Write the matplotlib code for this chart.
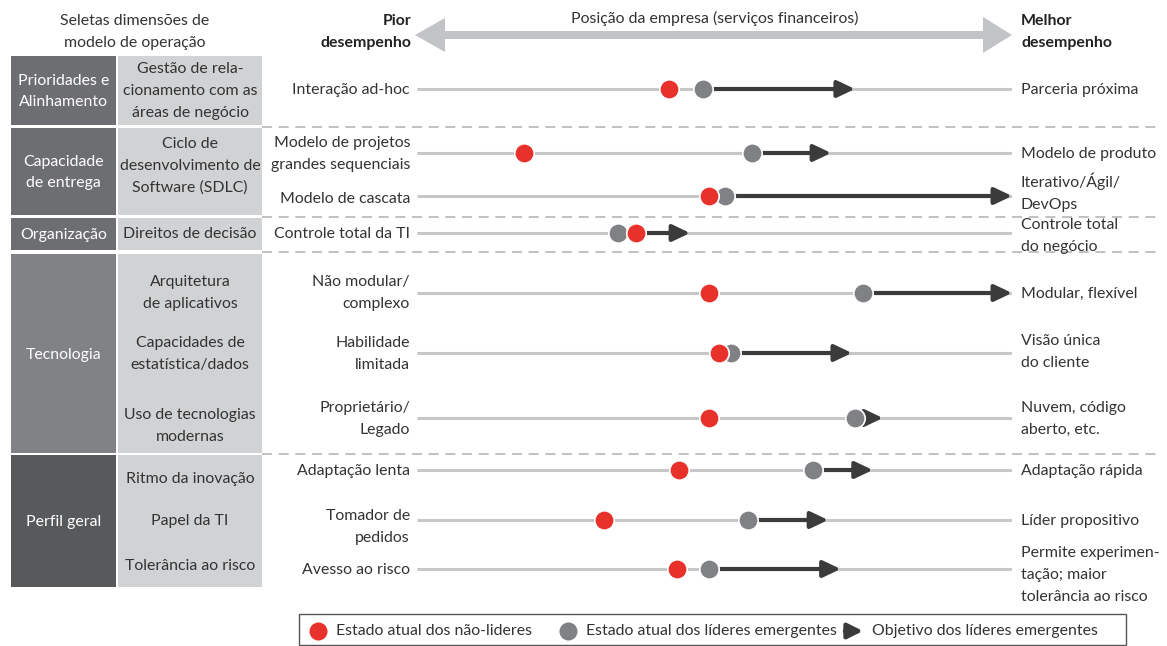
import matplotlib
matplotlib.use("Agg")
import matplotlib.pyplot as plt
from matplotlib.patches import Rectangle, Polygon

plt.rcParams['font.family'] = ['Lato', 'DejaVu Sans']

# ---------------- data ----------------
left_labels = ["Interação ad-hoc", "Modelo de projetos\ngrandes sequenciais", "Modelo de cascata",
               "Controle total da TI", "Não modular/\ncomplexo", "Habilidade\nlimitada",
               "Proprietário/\nLegado", "Adaptação lenta", "Tomador de\npedidos", "Avesso ao risco"]
right_labels = ["Parceria próxima", "Modelo de produto", "Iterativo/Ágil/\nDevOps",
                "Controle total\ndo negócio", "Modular, flexível", "Visão única\ndo cliente",
                "Nuvem, código\naberto, etc.", "Adaptação rápida", "Líder propositivo",
                "Permite experimen-\ntação; maior\ntolerância ao risco"]
# position on a 0-100 scale (0 = worse, 100 = better)
non_leaders = [42.4, 18.0, 49.1, 36.8, 49.1, 50.8, 49.1, 44.0, 31.4, 43.7]
emerging = [48.1, 56.3, 51.8, 33.8, 74.9, 52.8, 73.6, 66.5, 55.6, 49.0]
target = [73.6, 69.6, 100.0, 45.9, 100.0, 73.1, 78.3, 76.6, 69.1, 71.2]

groups = ["Prioridades e\nAlinhamento", "Capacidade\nde entrega", "Organização", "Tecnologia", "Perfil geral"]
dimensions = ["Gestão de rela-\ncionamento com as\náreas de negócio",
              "Ciclo de\ndesenvolvimento de\nSoftware (SDLC)", "Direitos de decisão",
              "Arquitetura\nde aplicativos", "Capacidades de\nestatística/dados",
              "Uso de tecnologias\nmodernas", "Ritmo da inovação", "Papel da TI",
              "Tolerância ao risco"]
legend_labels = ["Estado atual dos não-lideres", "Estado atual dos líderes emergentes",
                 "Objetivo dos líderes emergentes"]

# ---------------- layout (pixels) ----------------
W, H = 1167, 646
row_y = [89, 153, 196, 233, 293, 353, 418, 470, 520, 569]
left_text_y = [90, 154, 199, 234, 293, 354, 419, 471, 527, 570]
right_text_y = [90, 154, 192, 236, 294, 352, 419, 471, 521, 575]
group_boxes = [(56, 125), (128, 215), (218, 250), (254, 453), (455, 587)]
group_colors = ["#6d6e71", "#6d6e71", "#6d6e71", "#818285", "#58595b"]
dim_y = [91, 166, 234, 293, 354, 426, 479, 521, 566]
sep_y = [126.5, 216.5, 252, 454]
x0, x1 = 417, 1012

RED = "#e8312a"
GREY = "#808184"
DARK = "#3b3b3c"
TRACK = "#c6c7c9"
TXT = "#333333"
FS = 11.4
LS = 1.72

fig = plt.figure(figsize=(W / 100, H / 100), dpi=100)
ax = fig.add_axes([0, 0, 1, 1])
ax.set_xlim(0, W)
ax.set_ylim(H, 0)
ax.axis("off")

# left table
for (t, b), c, g in zip(group_boxes, group_colors, groups):
    ax.add_patch(Rectangle((11, t), 105, b - t, color=c, lw=0))
    ax.add_patch(Rectangle((118, t), 144, b - t, color="#d1d2d4", lw=0))
    ax.text(63.5, (t + b) / 2 + 1, g, color="white", ha="center", va="center", fontsize=FS,
            linespacing=LS)
for d, y in zip(dimensions, dim_y):
    ax.text(190, y, d, color=TXT, ha="center", va="center", fontsize=FS, linespacing=LS)

for y in sep_y:
    ax.plot([262, 1160], [y, y], color="#b5b6b8", lw=1.2, dashes=(6, 4))

# header
ax.text(135, 32, "Seletas dimensões de\nmodelo de operação", ha="center", va="center",
        fontsize=FS, color=TXT, linespacing=LS)
ax.text(411, 32, "Pior\ndesempenho", ha="right", va="center", fontsize=FS,
        fontweight="bold", color="#222222", linespacing=LS)
ax.text(1021, 32, "Melhor\ndesempenho", ha="left", va="center", fontsize=FS,
        fontweight="bold", color="#222222", linespacing=LS)
ax.text(715, 18, "Posição da empresa (serviços financeiros)", ha="center", va="center",
        fontsize=FS, color=TXT)
cy = 35
big = [(x0 - 2, cy), (445, cy - 17), (445, cy - 4), (983, cy - 4), (983, cy - 18),
       (x1, cy), (983, cy + 18), (983, cy + 4), (445, cy + 4), (445, cy + 17)]
ax.add_patch(Polygon(big, closed=True, color="#c2c3c6", lw=0))

# row labels
for lab, y in zip(left_labels, left_text_y):
    ax.text(410, y, lab, ha="right", va="center", fontsize=FS, color=TXT, linespacing=LS)
for lab, y in zip(right_labels, right_text_y):
    ax.text(1021, y, lab, ha="left", va="center", fontsize=FS, color=TXT, linespacing=LS)

# tracks axes (0-100 scale)
ax2 = fig.add_axes([x0 / W, 0, (x1 - x0) / W, 1])
ax2.set_xlim(0, 100)
ax2.set_ylim(H, 0)
ax2.axis("off")
ax2.patch.set_alpha(0)
for y, r, g, t in zip(row_y, non_leaders, emerging, target):
    ax2.plot([0, 100], [y, y], color=TRACK, lw=2.2, solid_capstyle="butt", zorder=1)
    ax2.annotate("", xy=(t, y), xytext=(g, y),
                 arrowprops=dict(arrowstyle="-|>,head_length=1.05,head_width=0.5",
                                 color=DARK, lw=3, shrinkA=0, shrinkB=0), zorder=2)
    ax2.plot([g], [y], "o", ms=14, color=GREY, mec="white", mew=1.2, zorder=3)
    ax2.plot([r], [y], "o", ms=14, color=RED, mec="white", mew=1.2, zorder=4)

# legend
ax.add_patch(Rectangle((299, 614), 827, 31, fill=False, ec="#555555", lw=1))
ly = 631
ax.plot([318], [ly], "o", ms=14, color=RED, mec="white", mew=1)
ax.text(336, ly, legend_labels[0], ha="left", va="center", fontsize=FS, color=TXT)
ax.plot([568], [ly], "o", ms=14, color=GREY, mec="white", mew=1)
ax.text(586, ly, legend_labels[1], ha="left", va="center", fontsize=FS, color=TXT)
ax.annotate("", xy=(863, ly), xytext=(845, ly),
            arrowprops=dict(arrowstyle="-|>,head_length=0.9,head_width=0.45",
                            color=DARK, lw=3.2, shrinkA=0, shrinkB=0))
ax.text(872, ly, legend_labels[2], ha="left", va="center", fontsize=FS, color=TXT)

fig.savefig("out.png", dpi=100)
